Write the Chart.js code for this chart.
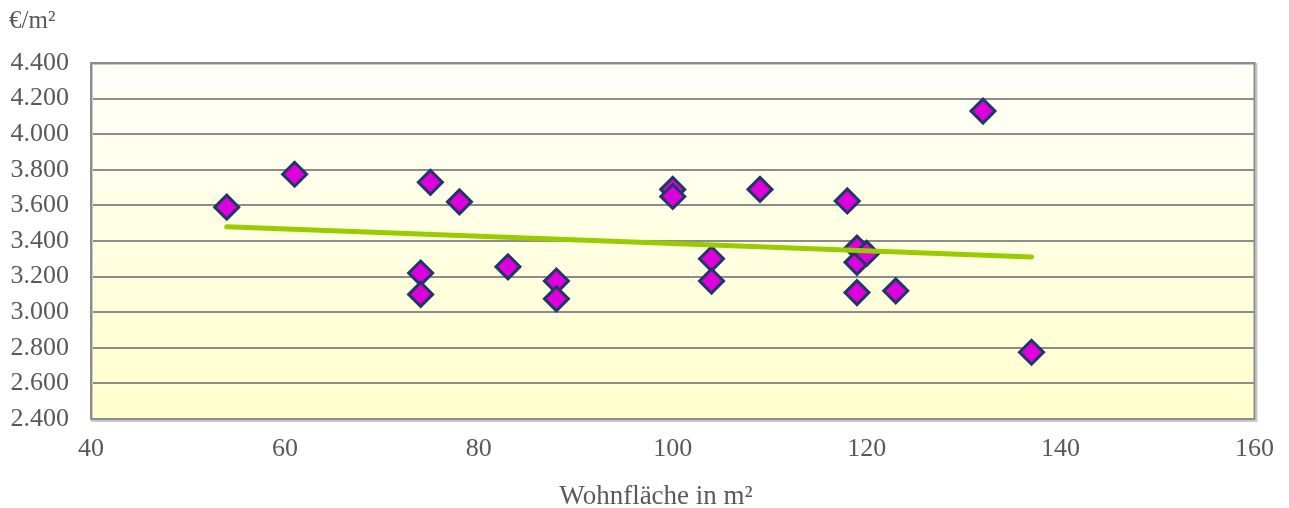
<!DOCTYPE html>
<html>
<head>
<meta charset="utf-8">
<script src="https://cdn.jsdelivr.net/npm/chart.js@4/dist/chart.umd.min.js"></script>
<style>
  html, body { margin: 0; padding: 0; background: #fff; }
  #wrap { width: 1289px; height: 508px; }
</style>
</head>
<body>
<div id="wrap"><canvas id="chart"></canvas></div>
<script>
// Wohnfläche (m²) und Preis (€/m²)
const flaeche = [54, 61, 74, 74, 75, 78, 83, 88, 88, 100, 100, 104, 104, 109, 118, 119, 119, 120, 119, 123, 132, 137]
const preis = [3590, 3775, 3220, 3100, 3730, 3620, 3255, 3175, 3075, 3690, 3650, 3300, 3175, 3690, 3625, 3360, 3280, 3330, 3110, 3120, 4130, 2775]

const trendX = [54, 137]
const trendY = [3480, 3310]

const yTitle = '€/m²'
const xTitle = 'Wohnfläche in m²'

const serif = 'Liberation Serif'
const textColor = '#595959'

const fmt = v => v.toLocaleString('de-DE', { minimumFractionDigits: 0 })

/* Hintergrund mit Verlauf, Rahmen und Achsentitel */
const plotArea = {
  id: 'plotArea',
  beforeDraw(chart) {
    const { ctx, chartArea: a } = chart
    const g = ctx.createLinearGradient(0, a.top, 0, a.bottom)
    g.addColorStop(0, '#fffffa')
    g.addColorStop(1, '#ffffcc')
    ctx.save()
    ctx.fillStyle = g
    ctx.fillRect(a.left, a.top, a.right - a.left, a.bottom - a.top)
    ctx.restore()
  },
  afterDatasetsDraw(chart) {
    const { ctx, chartArea: a } = chart
    ctx.save()
    ctx.strokeStyle = '#c8c8c8'
    ctx.lineWidth = 2
    ctx.strokeRect(a.left + 1, a.top + 1, a.right - a.left + 1, a.bottom - a.top + 1)
    ctx.strokeStyle = '#8c8c8c'
    ctx.lineWidth = 2
    ctx.strokeRect(a.left, a.top, a.right - a.left, a.bottom - a.top)
    ctx.restore()
  },
  afterDraw(chart) {
    const { ctx } = chart
    ctx.save()
    ctx.font = '25px "' + serif + '"'
    ctx.fillStyle = textColor
    ctx.textAlign = 'left'
    ctx.textBaseline = 'middle'
    ctx.fillText(yTitle, 9, 21)
    ctx.font = '27px "' + serif + '"'
    ctx.textAlign = 'center'
    ctx.textBaseline = 'alphabetic'
    ctx.fillText(xTitle, 656, 504)
    ctx.restore()
  }
}

new Chart(document.querySelector('#chart'), {
  data: {
    datasets: [
      {
        type: 'line',
        data: trendX.map((x, i) => ({ x: x, y: trendY[i] })),
        borderColor: '#99cc00',
        borderWidth: 5,
        borderCapStyle: 'round',
        pointRadius: 0,
        order: 0
      },
      {
        type: 'scatter',
        data: flaeche.map((x, i) => ({ x: x, y: preis[i] })),
        pointStyle: 'rectRot',
        pointRadius: 12,
        pointHoverRadius: 12,
        backgroundColor: '#dd00dd',
        borderColor: '#1f3864',
        borderWidth: 3,
        order: 1
      }
    ]
  },
  options: {
    responsive: true,
    maintainAspectRatio: false,
    animation: false,
    layout: { padding: { top: 63, right: 33, left: 0, bottom: 0 } },
    plugins: { legend: { display: false }, tooltip: { enabled: false } },
    scales: {
      x: {
        type: 'linear',
        min: 40,
        max: 160,
        ticks: { stepSize: 20, color: textColor, font: { family: serif, size: 26 }, padding: 15 },
        grid: { display: false, drawTicks: false },
        border: { display: false },
        afterFit: s => { s.height = 89 }
      },
      y: {
        min: 2400,
        max: 4400,
        ticks: { stepSize: 200, color: textColor, font: { family: serif, size: 26 }, padding: 22, callback: v => fmt(v) },
        grid: { color: '#8c8c8c', lineWidth: 2, drawTicks: false },
        border: { display: false },
        afterFit: s => { s.width = 91 }
      }
    }
  },
  plugins: [plotArea]
})
</script>
</body>
</html>
